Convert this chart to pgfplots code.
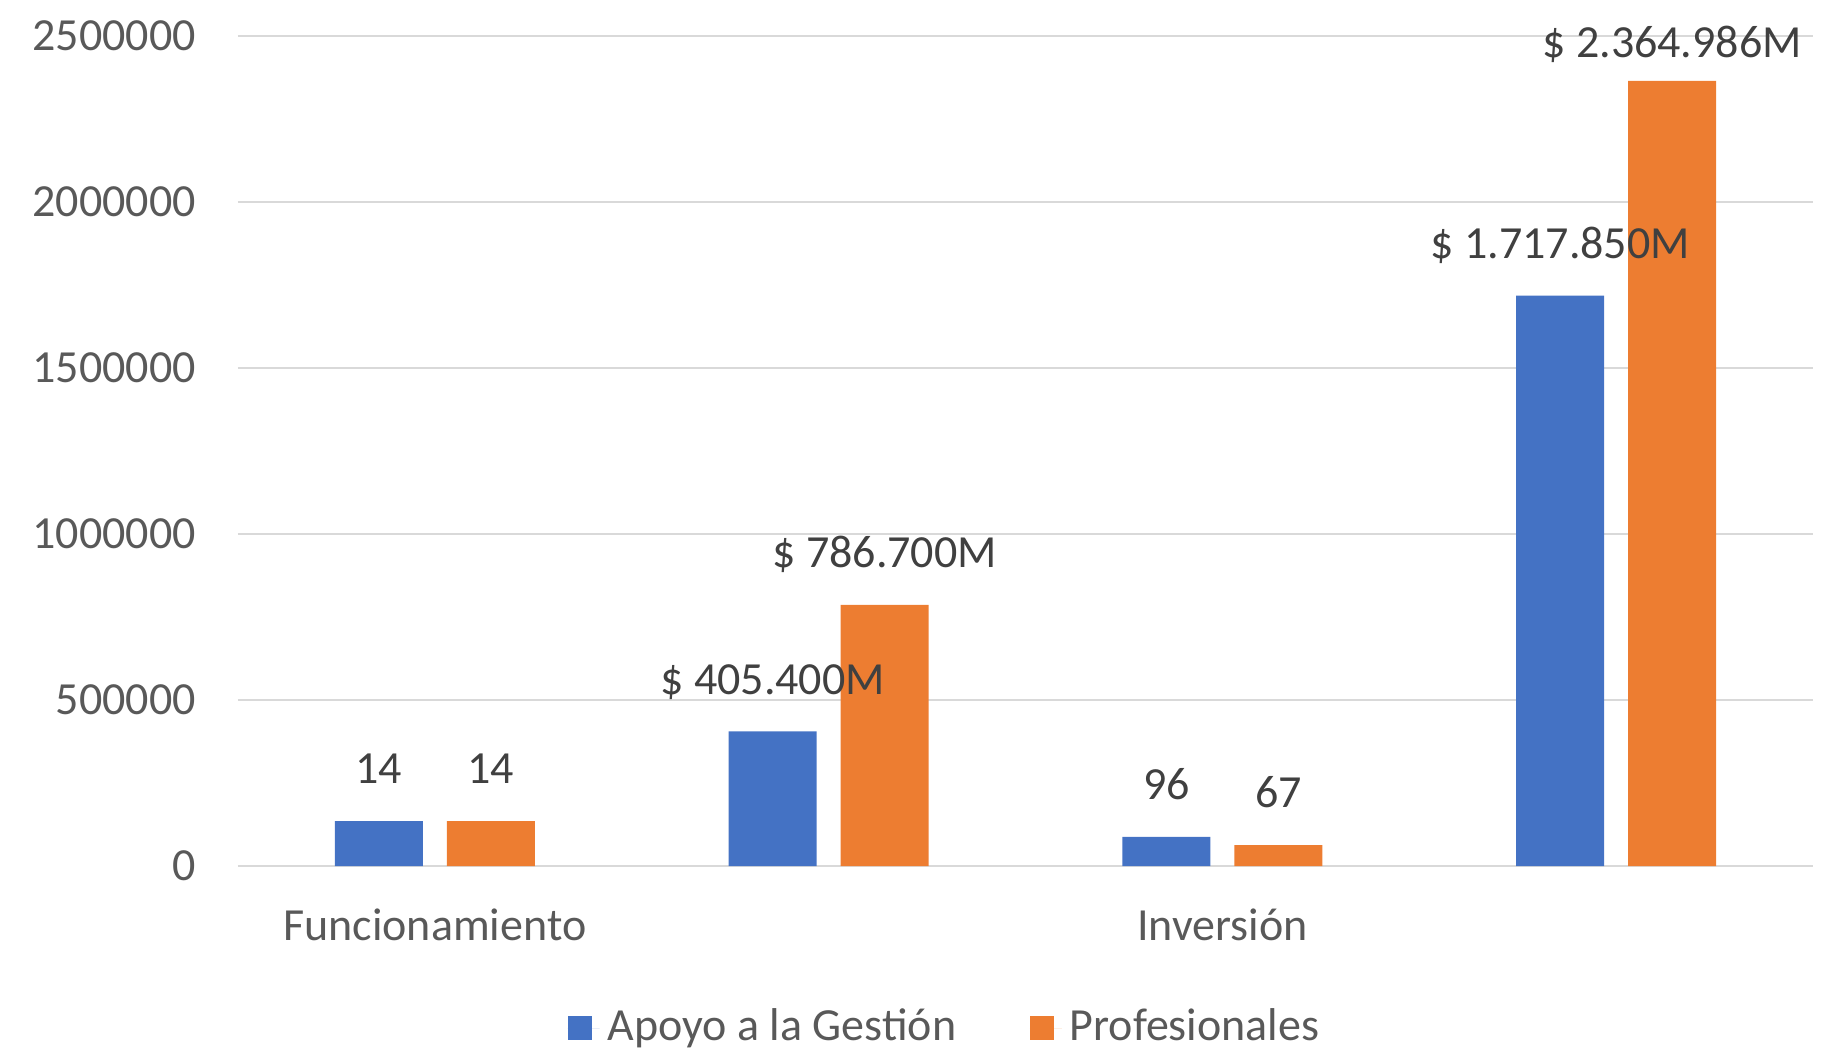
\documentclass[border=0pt]{standalone}
\usepackage{pgfplots}
\pgfplotsset{compat=1.18}
\usepackage{pgfplotstable}
\usepackage{fontspec}
\setmainfont{Carlito}
\definecolor{cblue}{HTML}{4472C4}
\definecolor{corange}{HTML}{ED7D31}
\definecolor{tickgray}{HTML}{595959}
\definecolor{gridgray}{HTML}{D9D9D9}
\definecolor{lblgray}{HTML}{404040}
\newcommand{\cfont}{\fontsize{11.5}{13.8}\selectfont}

\pgfplotstableread{
x y lbl
-0.1422 135000 14
0.8578 405400 {\$~405.400M}
1.8578 88000 96
2.8578 1717850 {\$~1.717.850M}
}\apoyo
\pgfplotstableread{
x y lbl
0.1422 135000 14
1.1422 786700 {\$~786.700M}
2.1422 63000 67
3.1422 2364986 {\raisebox{-3.5pt}{\$~2.364.986M}}
}\prof

\begin{document}
\begin{tikzpicture}
\begin{axis}[
  scale only axis,
  width=393.75pt, height=207.5pt,
  xmin=-0.5, xmax=3.5,
  ymin=0, ymax=2500000,
  ytick={0,500000,1000000,1500000,2000000,2500000},
  scaled y ticks=false,
  yticklabel style={/pgf/number format/fixed,/pgf/number format/1000 sep={}, xshift=-7pt},
  /pgf/number format/assume math mode=true,
  xtick={0,1,2,3},
  xticklabels={Funcionamiento,,Inversión,},
  xticklabel style={anchor=base, yshift=-18.5pt},
  tick label style={font=\cfont, text=tickgray},
  major tick length=0pt,
  axis line style={draw=none},
  ymajorgrids,
  grid style={gridgray, line width=0.5pt},
  clip=false,
  bar width=0.2235,
  point meta=explicit symbolic,
  nodes near coords,
  every node near coord/.append style={font=\cfont, text=lblgray, anchor=base, inner sep=0pt, yshift=9.3pt},
  legend columns=2,
  legend style={draw=none, fill=none, font=\cfont, text=tickgray,
    at={(0.4505,0)}, anchor=center, yshift=-40.5pt,
    /tikz/every even column/.append style={column sep=16.4pt}},
  legend image code/.code={\path (0pt,0pt) -- (8pt,0pt);\fill[#1] (0pt,-3pt) rectangle (6pt,3pt);},
]
\addplot[ybar, bar shift=0pt, fill=cblue, draw=none] table[x=x, y=y, meta=lbl] {\apoyo};
\addplot[ybar, bar shift=0pt, fill=corange, draw=none] table[x=x, y=y, meta=lbl] {\prof};
\legend{Apoyo a la Gestión, Profesionales}
\coordinate (sw) at (rel axis cs:0,0);
\coordinate (ne) at (rel axis cs:1,1);
\end{axis}
\pgfresetboundingbox
\path ([shift={(-59.5pt,-46.25pt)}]sw) rectangle ([shift={(2.25pt,9pt)}]ne);
\end{tikzpicture}
\end{document}
